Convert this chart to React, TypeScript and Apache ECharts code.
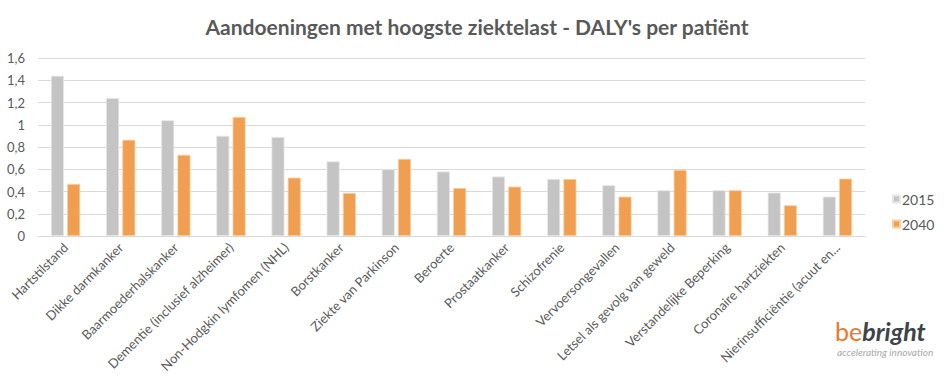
import React, { useEffect, useRef } from "react";
import * as echarts from "echarts";

const categories = [
  "Hartstilstand",
  "Dikke darmkanker",
  "Baarmoederhalskanker",
  "Dementie (inclusief alzheimer)",
  "Non-Hodgkin lymfomen (NHL)",
  "Borstkanker",
  "Ziekte van Parkinson",
  "Beroerte",
  "Prostaatkanker",
  "Schizofrenie",
  "Vervoersongevallen",
  "Letsel als gevolg van geweld",
  "Verstandelijke Beperking",
  "Coronaire hartziekten",
  "Nierinsufficiëntie (acuut en...",
];
const values2015 = [1.44, 1.24, 1.04, 0.9, 0.89, 0.67, 0.6, 0.58, 0.535, 0.513, 0.456, 0.411, 0.411, 0.39, 0.354];
const values2040 = [0.468, 0.865, 0.73, 1.07, 0.525, 0.387, 0.693, 0.432, 0.444, 0.513, 0.354, 0.594, 0.411, 0.276, 0.516];
const seriesNames = ["2015", "2040"];
const yTicks = { min: 0, max: 1.6, interval: 0.2 };

export default function App() {
  const ref = useRef<HTMLDivElement>(null);
  useEffect(() => {
    if (!ref.current) return;
    const chart = echarts.init(ref.current, null, { renderer: "svg" });
    const font = "Lato, 'Open Sans', sans-serif";
    chart.setOption({
      animation: false,
      backgroundColor: "#ffffff",
      title: {
        text: "Aandoeningen met hoogste ziektelast - DALY's per patiënt",
        left: 472,
        textAlign: "center",
        top: 11,
        textStyle: { fontFamily: font, fontSize: 21, fontWeight: "bold", color: "#595959" },
      },
      legend: {
        orient: "vertical",
        left: 887,
        top: 187,
        itemWidth: 7,
        itemHeight: 7,
        itemGap: 11,
        icon: "rect",
        textStyle: { fontFamily: font, fontSize: 14, color: "#595959", padding: [0, 0, 0, -3] },
        data: seriesNames,
      },
      grid: { left: 38, right: 79, top: 58, bottom: 145, containLabel: false },
      xAxis: {
        type: "category",
        data: categories,
        axisLine: { lineStyle: { color: "#d9d9d9", width: 1 } },
        axisTick: { show: false },
        axisLabel: {
          interval: 0,
          rotate: 45,
          margin: 9,
          fontFamily: font,
          fontSize: 13,
          color: "#595959",
        },
      },
      yAxis: {
        type: "value",
        min: yTicks.min,
        max: yTicks.max,
        interval: yTicks.interval,
        axisLine: { show: false },
        axisTick: { show: false },
        splitLine: { lineStyle: { color: "#d9d9d9", width: 1 } },
        axisLabel: {
          margin: 13,
          fontFamily: font,
          fontSize: 13,
          color: "#595959",
          formatter: (v: number) => (Math.round(v * 10) / 10).toString().replace(".", ","),
        },
      },
      series: [
        {
          name: seriesNames[0],
          type: "bar",
          data: values2015,
          barWidth: 13,
          barGap: "25%",
          itemStyle: { color: "#c4c4c4", borderColor: "#e6e6e6", borderWidth: 0.8 },
        },
        {
          name: seriesNames[1],
          type: "bar",
          data: values2040,
          barWidth: 13,
          barGap: "25%",
          itemStyle: { color: "#f09e4f", borderColor: "#f8cfa5", borderWidth: 0.8 },
        },
      ],
      graphic: [
        {
          type: "text",
          left: 835,
          top: 318,
          style: {
            text: "{a|be}{b|bright}",
            rich: {
              a: { fontFamily: font, fontSize: 25, fill: "#e8792a", color: "#e8792a", fontWeight: "normal" },
              b: { fontFamily: font, fontSize: 25, fill: "#3d4448", color: "#3d4448", fontStyle: "italic", fontWeight: "bold" },
            },
          },
        },
        {
          type: "text",
          left: 837,
          top: 347,
          style: {
            text: "accelerating innovation",
            fontFamily: font,
            fontSize: 10,
            fontStyle: "italic",
            fill: "#a8a8a8",
          },
        },
      ],
    });
    return () => chart.dispose();
  }, []);
  return <div ref={ref} style={{ width: 944, height: 381, position: "absolute", left: 0, top: 0 }} />;
}
